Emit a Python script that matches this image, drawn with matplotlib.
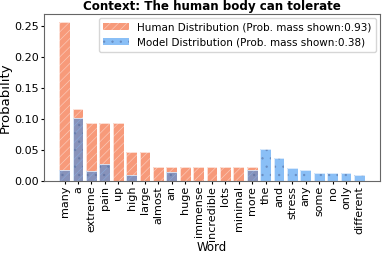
import numpy as np
import matplotlib.pyplot as plt

# Words shown on the x axis
words = ['many', 'a', 'extreme', 'pain', 'up', 'high', 'large', 'almost', 'an',
         'huge', 'immense', 'incredible', 'lots', 'minimal', 'more', 'the', 'and',
         'stress', 'any', 'some', 'no', 'only', 'different']

# Probabilities
human_prob = [0.256, 0.116, 0.093, 0.093, 0.093, 0.047, 0.047, 0.023, 0.023,
              0.023, 0.023, 0.023, 0.023, 0.023, 0.023, 0, 0,
              0, 0, 0, 0, 0, 0]
model_prob = [0.018, 0.102, 0.016, 0.027, 0.0, 0.010, 0.0, 0.0, 0.015,
              0.0, 0.0, 0.0, 0.0, 0.0, 0.017, 0.052, 0.037,
              0.020, 0.017, 0.013, 0.013, 0.012, 0.010]

human_mass = 0.93
model_mass = 0.38

plt.rcParams['hatch.linewidth'] = 0.5

fig = plt.figure(figsize=(3.82, 2.57), dpi=100)
ax = fig.add_axes([0.115, 0.296, 0.88, 0.65])

x = np.arange(len(words))
ax.bar(x, human_prob, width=0.8, color=(0.96, 0.47, 0.3, 0.75), hatch='////',
       edgecolor=(1, 1, 1, 0.45), linewidth=0,
       label=f'Human Distribution (Prob. mass shown:{human_mass:.2f})')
ax.bar(x, human_prob, width=0.8, fill=False, edgecolor=(1, 1, 1, 0.8),
       linewidth=0.6)
ax.bar(x, model_prob, width=0.8, color=(0.17, 0.55, 0.94, 0.55), hatch='..',
       edgecolor=(0.3, 0.4, 0.6, 0.45), linewidth=0,
       label=f'Model Distribution (Prob. mass shown:{model_mass:.2f})')
ax.bar(x, model_prob, width=0.8, fill=False, edgecolor=(1, 1, 1, 0.8),
       linewidth=0.6)

ax.set_xticks(x)
ax.set_xticklabels(words, rotation=90)
ax.tick_params(axis='both', labelsize=8, length=2, pad=1.5)
ax.set_xlabel('Word', fontsize=8.5, labelpad=0)
ax.set_ylabel('Probability', fontsize=9.5, labelpad=2)
ax.set_title('Context: The human body can tolerate', fontsize=8.6,
             fontweight='bold', pad=3)
ax.legend(loc='upper right', fontsize=7.5, handlelength=2.5,
          borderaxespad=0.4)

for s in ax.spines.values():
    s.set_color('0.4')
    s.set_linewidth(0.8)

fig.savefig('out.png', dpi=100)
